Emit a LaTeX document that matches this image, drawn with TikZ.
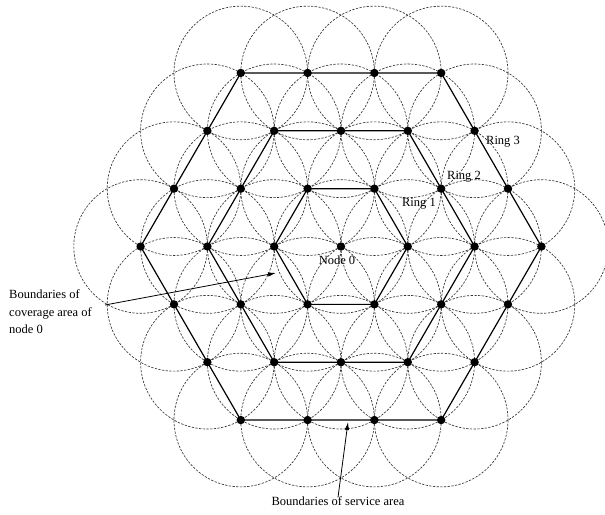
\documentclass[tikz,border=0pt]{standalone}
\usepackage{fontspec}
\setmainfont{Liberation Serif}
\usetikzlibrary{arrows.meta,backgrounds}
\begin{document}
\begin{tikzpicture}[x=1pt,y=-1pt,
  dot/.style={circle,fill=black,inner sep=0pt,minimum size=8.4pt},
  cov/.style={draw=black!80,line width=0.65pt,dash pattern=on 2.3pt off 1.4pt},
  edge/.style={draw=black,line width=1.2pt},
  lbl/.style={font=\fontsize{12.5}{17.5}\selectfont,inner sep=0pt},
  arr/.style={draw=black,line width=0.8pt,-{Latex[length=8pt,width=4.5pt]}}]
\useasboundingbox (0,0) rectangle (605,514);
\def\dd{66.8}
\foreach \q in {-3,...,3}{
  \foreach \r in {-3,...,3}{
    \pgfmathtruncatemacro\s{abs(\q+\r)}
    \ifnum\s<4
      \pgfmathtruncatemacro\qi{\q+3}
      \pgfmathtruncatemacro\ri{\r+3}
      \begin{scope}[on background layer]
        \draw[cov] (341+\dd*\q+0.5*\dd*\r, 246.5+0.8660254*\dd*\r) circle (\dd);
      \end{scope}
      \node[dot] (n\qi\ri) at (341+\dd*\q+0.5*\dd*\r, 246.5+0.8660254*\dd*\r) {};
    \fi
  }
}
% hexagon rings
\foreach \k in {1,2,3}{
  \pgfmathtruncatemacro\pa{3+\k}
  \pgfmathtruncatemacro\ma{3-\k}
  \draw[edge] (n\pa3.center) -- (n3\pa.center) -- (n\ma\pa.center) -- (n\ma3.center)
     -- (n3\ma.center) -- (n\pa\ma.center) -- cycle;
}
% labels
\node[lbl] (node0) at (337,260) {Node 0};
\node[lbl] (ring1) at (419,204) {Ring 1};
\node[lbl] (ring2) at (464,177) {Ring 2};
\node[lbl] (ring3) at (503,142) {Ring 3};
\node[lbl] (svc) at (338,501) {Boundaries of service area};
\node[lbl,align=left,anchor=north west] (cov0) at (9,289.5) {Boundaries of\\coverage area of\\node 0};
% arrows
\coordinate (svcTip) at (348,422);
\coordinate (cvTail) at (105,305);
\coordinate (cvTip) at (276,273);
\draw[arr] ([yshift=-1pt]svc.north) -- (svcTip);
\draw[arr] (cvTail) -- (cvTip);
\end{tikzpicture}
\end{document}
